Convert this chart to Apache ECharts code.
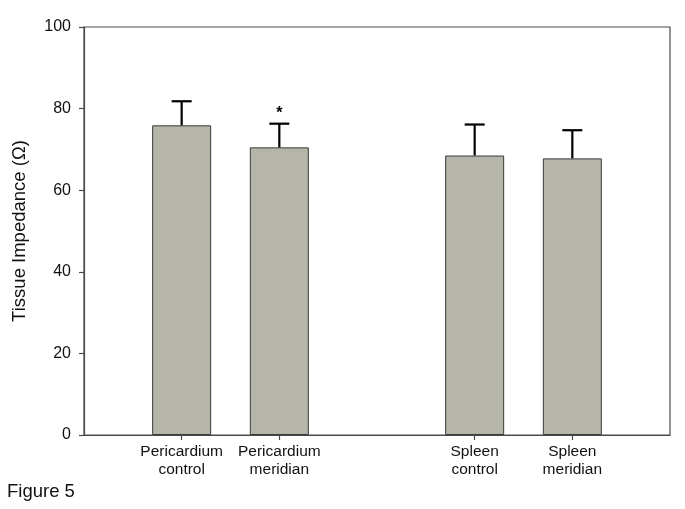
<!DOCTYPE html>
<html><head><meta charset="utf-8">
<script src="https://cdn.jsdelivr.net/npm/echarts@6/dist/echarts.min.js"></script>
<style>html,body{margin:0;padding:0;background:#fff}#c{width:685px;height:509px}</style>
</head><body><div id="c"></div>
<script>
var categories = ['Pericardium\ncontrol', 'Pericardium\nmeridian', 'Spleen\ncontrol', 'Spleen\nmeridian'];
var positions = [1, 2, 4, 5];
var means = [75.9, 70.5, 68.5, 67.8];
var errors = [5.9, 5.8, 7.6, 6.9];
var marks = ['', '*', '', ''];
var yTicks = [0, 20, 40, 60, 80, 100];

var font = 'Liberation Sans, Arial, sans-serif';
var chart = echarts.init(document.getElementById('c'), null, {renderer: 'canvas'});
var barData = positions.map(function (p, i) { return [p, means[i]]; });
var errData = positions.map(function (p, i) { return [p, means[i], errors[i], marks[i]]; });
var labelMap = {};
positions.forEach(function (p, i) { labelMap[p] = categories[i]; });

chart.setOption({
  animation: false,
  grid: {left: 84, top: 27, right: 15, bottom: 74, show: true, borderColor: '#4a4a4a', borderWidth: 1.2},
  xAxis: {
    type: 'value', min: 0, max: 6, interval: 1,
    splitLine: {show: false},
    axisLine: {show: true, lineStyle: {color: '#4a4a4a', width: 1.2}},
    axisTick: {show: true, customValues: positions, length: 5, lineStyle: {color: '#4a4a4a', width: 1.2}},
    axisLabel: {customValues: positions, formatter: function (v) { return labelMap[v] || ''; },
      color: '#111', fontFamily: font, fontSize: 15.5, lineHeight: 18.5, margin: 7}
  },
  yAxis: {
    type: 'value', min: 0, max: 100, interval: 20,
    customValues: yTicks,
    name: 'Tissue Impedance (Ω)', nameLocation: 'middle', nameGap: 55,
    nameTextStyle: {color: '#111', fontFamily: font, fontSize: 18.5},
    splitLine: {show: false},
    axisLine: {show: true, lineStyle: {color: '#4a4a4a', width: 1.2}},
    axisTick: {show: true, length: 5, lineStyle: {color: '#4a4a4a', width: 1.2}},
    axisLabel: {color: '#111', fontFamily: font, fontSize: 16, margin: 13}
  },
  series: [
    {
      type: 'bar', data: barData, barWidth: 59,
      itemStyle: {color: '#b5b5a9', borderColor: '#3a3a3a', borderWidth: 1}
    },
    {
      type: 'custom', data: errData, z: 5,
      renderItem: function (params, api) {
        var x = api.value(0), m = api.value(1), e = api.value(2);
        var base = api.coord([x, m]);
        var top = api.coord([x, m + e]);
        var children = [
          {type: 'line', shape: {x1: base[0], y1: base[1], x2: top[0], y2: top[1]}, style: {stroke: '#000', lineWidth: 2.2}},
          {type: 'line', shape: {x1: top[0] - 10, y1: top[1], x2: top[0] + 10, y2: top[1]}, style: {stroke: '#000', lineWidth: 2.2}}
        ];
        var mk = errData[params.dataIndex][3];
        if (mk) {
          children.push({type: 'text', style: {text: mk, x: top[0], y: top[1] - 2, align: 'center', verticalAlign: 'bottom',
            fill: '#000', font: 'bold 16px ' + font}});
        }
        return {type: 'group', children: children};
      }
    }
  ],
  graphic: [
    {type: 'text', left: 7, top: 482, style: {text: 'Figure 5', fill: '#111', font: '18.5px ' + font}}
  ]
});
</script></body></html>
